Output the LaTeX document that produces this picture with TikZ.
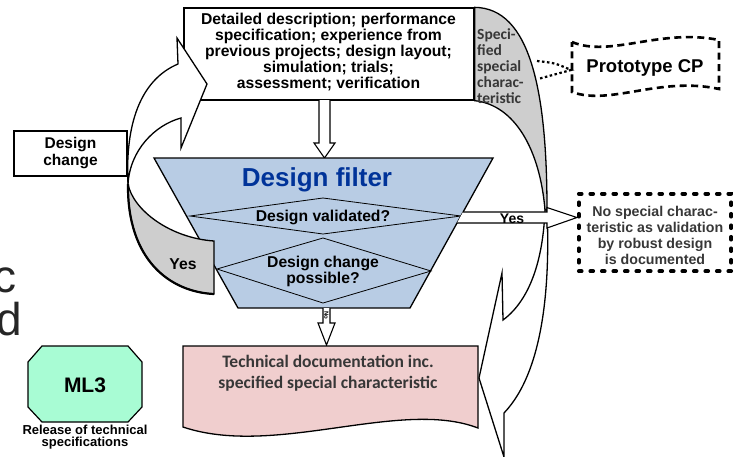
\documentclass[tikz,border=0pt]{standalone}
\usepackage{fontspec}
\setmainfont{Liberation Sans}
\newfontfamily\calfont{Carlito}

\definecolor{filterblue}{RGB}{184,204,228}
\definecolor{titleblue}{RGB}{0,51,153}
\definecolor{bandgray}{RGB}{206,206,206}
\definecolor{docpink}{RGB}{240,206,206}
\definecolor{mint}{RGB}{168,252,212}
\definecolor{inkgray}{RGB}{55,55,55}

\begin{document}
\begin{tikzpicture}[x=1pt,y=-1pt,line join=miter,
  outline/.style={draw=black,line width=1.3pt},
  thinline/.style={draw=black,line width=0.8pt},
  lbl/.style={font=\bfseries\fontsize{15.7}{15.8}\selectfont,align=center,inner sep=0pt},
  callabel/.style={font=\calfont\bfseries\fontsize{15.5}{16}\selectfont,text=inkgray,inner sep=0pt},
  blockarrow/.style={draw=black,line width=1.1pt,fill=white},
  bigletter/.style={anchor=base west,inner sep=0pt,text depth=0pt,font=\fontsize{46}{46}\selectfont,text=black!85}]
\useasboundingbox (0,0) rectangle (741,456);

% cut-off lettering at the left margin
\node[bigletter,text height=24pt] (leftc) at (-7,292) {c};
\node[bigletter,text height=33pt] (leftd) at (-4,335) {d};

% description box
\node[outline,fill=white,minimum width=290pt,minimum height=92pt,inner sep=0pt] (desc) at (329,54) {};
\node[lbl] (desctext) at (328.5,52) {Detailed description; performance\\specification; experience from\\previous projects; design layout;\\simulation; trials;\\assessment; verification};

% right curved arrow: shaded back band and white front with head
\draw[outline,fill=bandgray] (desc.north east) .. controls (530,8) and (547,90) .. (547,210)
  -- (545,210) .. controls (540,150) and (515,105) .. (desc.south east) -- cycle;
\node[callabel,anchor=west,align=left] (spec) at (477,66) {Speci-\\fied\\special\\charac-\\teristic};
\draw[outline,fill=white] (545,210) .. controls (543,260) and (530,300) .. (503,320)
  -- (502,273) -- (479,378) -- (504,457) -- (504,413)
  .. controls (545,370) and (550,280) .. (547,210) -- cycle;

% arrow from description to filter
\draw[blockarrow] (319,100) -- (319,143) -- (314,143) -- (324.5,158) -- (335,143) -- (330,143) -- (330,100);

% design filter
\draw[outline,fill=filterblue] (154,158) -- (493,158) -- (410,308) -- (238,308) -- cycle;
\node[font=\bfseries\fontsize{26}{26}\selectfont,text=titleblue,inner sep=0pt] (filter) at (317,180) {Design filter};
\draw[thinline] (190,216) -- (323,198) -- (461,216) -- (323,234) -- cycle;
\draw[thinline] (217,269) -- (323,238) -- (431,271) -- (323,303) -- cycle;
\node[lbl] (validated) at (323,217) {Design validated?};
\node[lbl,font=\bfseries\fontsize{15.7}{16}\selectfont] (possible) at (323,271) {Design change\\possible?};

% design change box
\node[outline,fill=white,minimum width=113pt,minimum height=45pt,inner sep=0pt,align=center,
  font=\bfseries\fontsize{15.5}{17}\selectfont] (dchange) at (70.5,153.5) {Design\\change};

% left curved arrow: white front with head, shaded tail
\draw[outline,fill=white] (128,184) .. controls (125,125) and (140,80) .. (178,64)
  -- (177,38) -- (207,84) -- (181,148) -- (181,118)
  .. controls (155,125) and (130,150) .. (128,184) -- cycle;
\draw[outline,fill=bandgray] (128,184) .. controls (127,260) and (170,292) .. (214,294)
  -- (214,241) .. controls (170,238) and (133,210) .. (128,184) -- cycle;
\draw[line width=2.2pt] (128,184) .. controls (127,260) and (170,292) .. (214,294);
\node[lbl] (yesleft) at (183,264) {Yes};

% yes arrow to the dotted box
\draw[blockarrow] (463,212) -- (547,212) -- (547,207.5) -- (577,217.5) -- (547,228) -- (547,223) -- (457,223);
\node[lbl,font=\bfseries\fontsize{14}{14}\selectfont] (yesright) at (512,219) {Yes};

% robust design box
\node[draw,line width=3.6pt,dash pattern=on 3pt off 8.5pt,line cap=round,minimum width=152.5pt,minimum height=77.5pt,
  inner sep=0pt] (robust) at (655,232.5) {};
\node[inner sep=0pt,align=center,text=inkgray,font=\bfseries\fontsize{14.2}{16}\selectfont] (robusttext) at (655,235)
  {No special charac-\\teristic as validation\\by robust design\\is documented};

% prototype CP tag with dotted link to the band
\draw[line width=2.6pt,dash pattern=on 7pt off 4.5pt,fill=white] (572,42) .. controls (610,58) and (660,28) .. (719,40)
  -- (719,89) .. controls (660,76) and (610,106) .. (572,92) -- cycle;
\coordinate (protoin) at (571,70);
\node[font=\bfseries\fontsize{18.5}{18.5}\selectfont,inner sep=0pt] (proto) at (645,68) {Prototype CP};
\draw[line width=2.2pt,dash pattern=on 2.5pt off 2.5pt] (537,61) .. controls (555,63) .. (protoin) .. controls (555,74) .. (538,79);

% no arrow down to the documentation
\draw[blockarrow] (323,308) -- (323,323) -- (318,323) -- (326.5,345) -- (335,323) -- (330,323) -- (330,308);
\node[rotate=-90,font=\bfseries\fontsize{6}{6}\selectfont,inner sep=0pt] (noarrow) at (326.5,315.5) {No};

% technical documentation
\draw[outline,fill=docpink] (183,346) -- (478,346) -- (478,428) .. controls (400,398) and (275,458) .. (183,427) -- cycle;
\node[font=\calfont\bfseries\fontsize{17.5}{21}\selectfont,text=inkgray,align=center,inner sep=0pt] (techdoc) at (328,373)
  {Technical documentation inc.\\specified special characteristic};

% milestone ML3
\draw[outline,line width=1.2pt,fill=mint] (28,362) -- (42,346) -- (128,346) -- (142,362) -- (142,407) -- (128,422) -- (42,422) -- (28,407) -- cycle;
\node[font=\bfseries\fontsize{21}{21}\selectfont,inner sep=0pt] (ml) at (85,385) {ML3};
\node[font=\bfseries\fontsize{13}{11.8}\selectfont,align=center,inner sep=0pt] (release) at (85,437.5) {Release of technical\\specifications};
\end{tikzpicture}
\end{document}
